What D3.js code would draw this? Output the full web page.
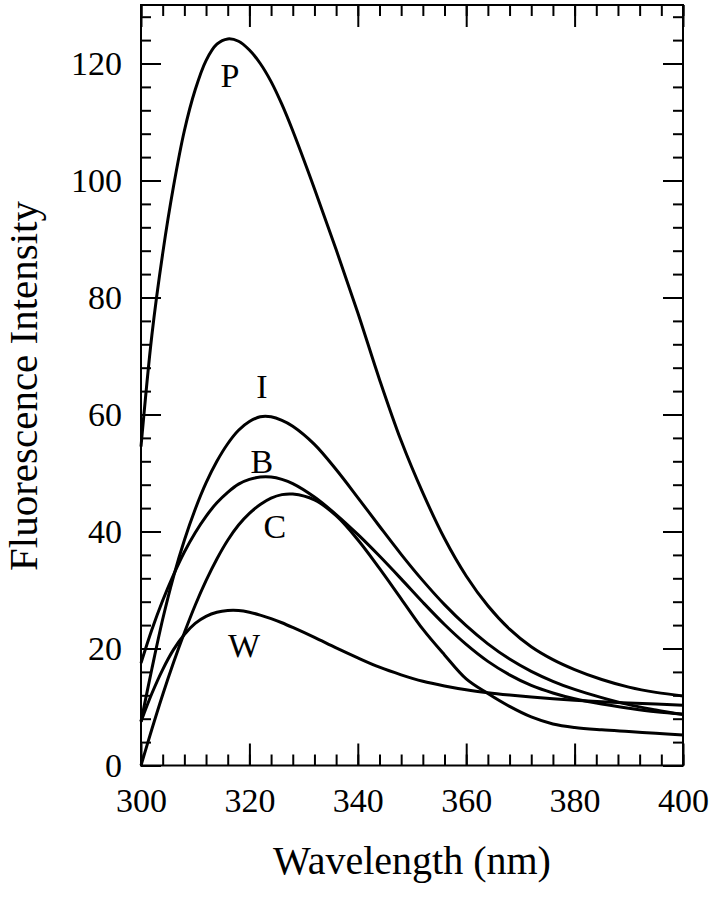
<!DOCTYPE html>
<html>
<head>
<meta charset="utf-8">
<script src="https://cdn.jsdelivr.net/npm/d3@7"></script>
<style>
  body { margin: 0; background: #fff; }
  text { font-family: "Liberation Serif", "Times New Roman", serif; fill: #000; }
</style>
</head>
<body>
<script>
// wavelength grid (nm)
var wavelengths = [300,302,304,306,308,310,312,314,316,318,320,322,324,326,328,332,336,340,344,348,352,356,360,364,368,372,376,380,385,390,395,400];

// fluorescence intensity
var seriesP = [54.5,73.5,87.5,99,108.5,115.5,120.5,123.3,124.2,123.8,122.3,120,116.9,113,108.5,98.6,88.2,77.4,66,55.5,46.6,38.8,32.4,27.3,23.3,20.3,18.1,16.4,14.7,13.4,12.5,11.9];
var seriesI = [7.5,16.5,25,32.3,38.5,43.8,48.3,52,55,57.3,58.8,59.6,59.6,59,58,54.9,50.6,45.8,40.9,36.1,31.6,27.5,23.9,20.8,18.2,16.1,14.4,13,11.6,10.4,9.5,8.7];
var seriesB = [17.5,23.2,28.2,32.6,36.5,39.8,42.6,44.9,46.7,48.1,48.9,49.3,49.3,48.9,48.2,45.9,42.9,39.5,35.8,31.9,27.9,24.1,20.7,17.8,15.5,13.7,12.4,11.4,10.5,9.8,9.2,8.8];
var seriesC = [0,6.2,12.1,17.6,22.7,27.4,31.6,35.3,38.5,41.1,43.1,44.6,45.7,46.3,46.4,45.4,42.7,38.6,33.7,28.5,23.3,18.9,14.8,12.3,10.1,8.3,7.1,6.5,6.1,5.8,5.5,5.2];
var seriesW = [7.5,12.3,16.4,19.8,22.4,24.3,25.5,26.2,26.5,26.5,26.2,25.7,25.1,24.4,23.6,21.9,20.1,18.4,16.8,15.5,14.4,13.6,12.95,12.45,12.05,11.7,11.4,11.15,10.9,10.7,10.5,10.3];

var names = ["P","I","B","C","W"];
// label anchor in data units: [wavelength, intensity]
var labelAt = [[316.4,116],[322.3,62.8],[322.3,50],[324.7,38.9],[319,18.5]];

var xTicks = [300,320,340,360,380,400];
var yTicks = [0,20,40,60,80,100,120];

var width = 713, height = 900;
var padL = 141, padR = 683, padT = 5, padB = 765.5;

var svg = d3.select("body").append("svg")
  .attr("width", width)
  .attr("height", height);

var x = d3.scaleLinear().domain([300,400]).range([padL,padR]);
var y = d3.scaleLinear().domain([0,130]).range([padB,padT]);

function styleAxis(g) {
  g.select(".domain").remove();
  g.selectAll("line").attr("stroke","#000").attr("stroke-width",2);
  g.selectAll("text").attr("font-size",34).attr("font-family",'"Liberation Serif", serif');
}

// minor ticks
svg.append("g").attr("transform","translate(0,"+padB+")")
  .call(d3.axisBottom(x).tickValues(d3.range(300,401,4)).tickSize(-11).tickFormat("")).call(styleAxis);
svg.append("g").attr("transform","translate(0,"+padT+")")
  .call(d3.axisTop(x).tickValues(d3.range(300,401,4)).tickSize(-11).tickFormat("")).call(styleAxis);
svg.append("g").attr("transform","translate("+padL+",0)")
  .call(d3.axisLeft(y).tickValues(d3.range(0,131,4)).tickSize(-10).tickFormat("")).call(styleAxis);
svg.append("g").attr("transform","translate("+padR+",0)")
  .call(d3.axisRight(y).tickValues(d3.range(0,131,4)).tickSize(-10).tickFormat("")).call(styleAxis);

// major ticks + labels
svg.append("g").attr("transform","translate(0,"+padB+")")
  .call(d3.axisBottom(x).tickValues(xTicks).tickSize(-22).tickPadding(22)).call(styleAxis);
svg.append("g").attr("transform","translate(0,"+padT+")")
  .call(d3.axisTop(x).tickValues(xTicks).tickSize(-22).tickFormat("")).call(styleAxis);
svg.append("g").attr("transform","translate("+padL+",0)")
  .call(d3.axisLeft(y).tickValues(yTicks).tickSize(-20).tickPadding(19)).call(styleAxis);
svg.append("g").attr("transform","translate("+padR+",0)")
  .call(d3.axisRight(y).tickValues(yTicks).tickSize(-20).tickFormat("")).call(styleAxis);

// frame
svg.append("rect")
  .attr("x",padL).attr("y",padT)
  .attr("width",padR-padL).attr("height",padB-padT)
  .attr("fill","none").attr("stroke","#000").attr("stroke-width",2);

// curves
var allSeries = [seriesP, seriesI, seriesB, seriesC, seriesW];
var line = d3.line()
  .x(function(d,i){ return x(wavelengths[i]); })
  .y(function(d){ return y(d); })
  .curve(d3.curveCatmullRom.alpha(0.5));

allSeries.forEach(function(s){
  svg.append("path")
    .attr("d", line(s))
    .attr("fill","none")
    .attr("stroke","#000")
    .attr("stroke-width",3)
    .attr("stroke-linejoin","round");
});

// curve labels
names.forEach(function(n,i){
  svg.append("text")
    .attr("x", x(labelAt[i][0]))
    .attr("y", y(labelAt[i][1]))
    .attr("text-anchor","middle")
    .attr("font-size",34)
    .text(n);
});

// axis titles
svg.append("text")
  .attr("x",(padL+padR)/2).attr("y",874)
  .attr("text-anchor","middle")
  .attr("font-size",40)
  .text("Wavelength (nm)");

svg.append("text")
  .attr("transform","translate(37,386) rotate(-90)")
  .attr("text-anchor","middle")
  .attr("font-size",41)
  .text("Fluorescence Intensity");
</script>
</body>
</html>
